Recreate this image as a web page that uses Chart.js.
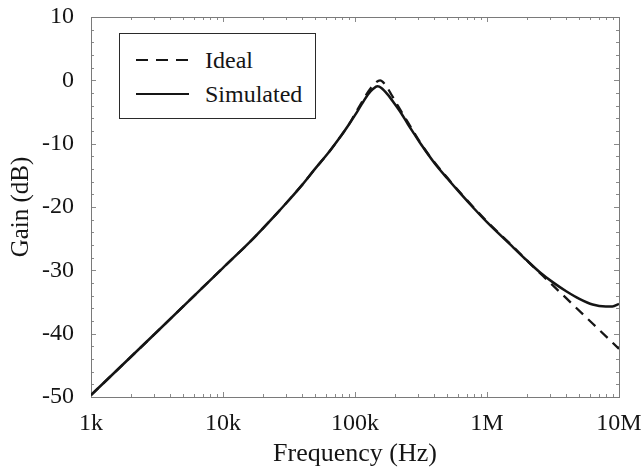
<!DOCTYPE html>
<html>
<head>
<meta charset="utf-8">
<script src="https://cdn.jsdelivr.net/npm/chart.js@4/dist/chart.umd.min.js"></script>
<style>
  html, body { margin: 0; padding: 0; background: #fff; }
  #wrap { position: relative; width: 643px; height: 467px; }
  #legend { position: absolute; left: 119px; top: 33px; width: 197px; height: 86px;
            box-sizing: border-box; border: 1.5px solid #2a2a2a; background: #fff;
            font-family: "Liberation Serif", "Times New Roman", serif; font-size: 24px; color: #151515; }
  #legend .row { position: absolute; left: 0; height: 30px; width: 100%; }
  #legend svg { position: absolute; left: 15px; top: 0; }
  #legend span { position: absolute; left: 85px; top: 0; line-height: 30px; }
</style>
</head>
<body>
<div id="wrap">
  <canvas id="c" width="643" height="467"></canvas>
  <div id="legend">
    <div class="row" style="top:11px">
      <svg width="56" height="30"><line x1="1" y1="15" x2="54" y2="15" stroke="#151515" stroke-width="2.2" stroke-dasharray="12 8"/></svg>
      <span>Ideal</span>
    </div>
    <div class="row" style="top:45px">
      <svg width="56" height="30"><line x1="1" y1="15" x2="54" y2="15" stroke="#151515" stroke-width="2.2"/></svg>
      <span>Simulated</span>
    </div>
  </div>
</div>
<script>
// ---- data ----
const xTickValues = [1e3, 1e4, 1e5, 1e6, 1e7];
const xTickLabels = ["1k", "10k", "100k", "1M", "10M"];
const yTickValues = [10, 0, -10, -20, -30, -40, -50];

const freqSimulated = [1000, 3162, 10000, 15849, 25119, 31623, 39811, 50119, 63096, 79433, 89125,
  100000, 112202, 125893, 138038, 147911, 158489, 177828, 199526, 223872, 251189, 281838, 316228,
  398107, 501187, 630957, 794328, 1000000, 1584893, 1995262, 2511886, 3162278, 3981072, 5011872,
  6309573, 7943282, 8912509, 10000000];
const gainSimulated = [-49.7, -39.7, -29.6, -25.6, -21.2, -18.9, -16.5, -13.9, -11.4, -8.6, -7.1,
  -5.5, -3.8, -2.2, -1.3, -0.95, -1.2, -2.3, -3.7, -5.2, -6.9, -8.5, -10.1,
  -13.0, -15.5, -17.9, -20.2, -22.4, -26.4, -28.4, -30.3, -31.9, -33.3, -34.5,
  -35.4, -35.7, -35.7, -35.3];

const freqIdeal = [1000, 3162, 10000, 15849, 25119, 31623, 39811, 50119, 63096, 79433, 89125,
  100000, 112202, 125893, 141254, 154882, 169824, 190546, 213796, 251189, 316228,
  398107, 501187, 630957, 794328, 1000000, 1584893, 1995262, 2511886, 3981072, 6309573, 10000000];
const gainIdeal = [-49.7, -39.7, -29.6, -25.6, -21.2, -18.9, -16.5, -13.9, -11.4, -8.6, -7.1,
  -5.3, -3.5, -1.8, -0.5, 0.0, -0.7, -2.4, -4.2, -6.6, -10.0,
  -12.9, -15.4, -17.8, -20.1, -22.3, -26.3, -28.4, -30.4, -34.4, -38.4, -42.4];

const toPts = (xs, ys) => xs.map((x, i) => ({ x: x, y: ys[i] }));

const FONT = "'Liberation Serif', 'Times New Roman', serif";
const INK = "#151515";

const framePlugin = {
  id: 'frame',
  beforeDatasetsDraw(chart) {
    const { ctx, chartArea: a, scales } = chart;
    const xs = scales.x, ys = scales.y;
    ctx.save();
    ctx.strokeStyle = '#8a8a8a';
    ctx.lineWidth = 1;
    ctx.beginPath();
    for (let d = 1e3; d < 1e7 + 1; d *= 10) {
      for (let m = 1; m <= 9; m++) {
        const v = d * m;
        if (v > 1e7 * 1.0001) break;
        const px = Math.round(xs.getPixelForValue(v)) + 0.5;
        const len = m === 1 ? 5 : 3;
        ctx.moveTo(px, a.bottom); ctx.lineTo(px, a.bottom - len);
        ctx.moveTo(px, a.top); ctx.lineTo(px, a.top + len);
      }
    }
    for (let v = -50; v <= 10; v += 2) {
      const py = Math.round(ys.getPixelForValue(v)) + 0.5;
      const len = (v % 10 === 0) ? 5 : 3;
      ctx.moveTo(a.left, py); ctx.lineTo(a.left + len, py);
      ctx.moveTo(a.right, py); ctx.lineTo(a.right - len, py);
    }
    ctx.stroke();
    ctx.strokeStyle = '#7a7a7a';
    ctx.strokeRect(Math.round(a.left) + 0.5, Math.round(a.top) + 0.5,
                   Math.round(a.right - a.left), Math.round(a.bottom - a.top));
    ctx.restore();
  }
};

new Chart(document.getElementById('c'), {
  type: 'line',
  data: {
    datasets: [
      {
        label: 'Ideal',
        data: toPts(freqIdeal, gainIdeal),
        borderColor: INK, borderWidth: 2.3, borderDash: [10, 7],
        pointRadius: 0, cubicInterpolationMode: 'monotone', fill: false
      },
      {
        label: 'Simulated',
        data: toPts(freqSimulated, gainSimulated),
        borderColor: INK, borderWidth: 2.5,
        pointRadius: 0, cubicInterpolationMode: 'monotone', fill: false
      }
    ]
  },
  options: {
    responsive: false,
    animation: false,
    devicePixelRatio: 1,
    layout: { padding: { top: 17, right: 24, left: 0, bottom: 0 } },
    plugins: { legend: { display: false }, tooltip: { enabled: false } },
    scales: {
      x: {
        type: 'logarithmic', min: 1e3, max: 1e7,
        grid: { display: false, drawTicks: false },
        border: { display: false },
        afterBuildTicks: (s) => { s.ticks = xTickValues.map(v => ({ value: v })); },
        afterFit: (s) => { s.height = 70; s.paddingLeft = 0; s.paddingRight = 0; },
        ticks: {
          autoSkip: false, maxRotation: 0, padding: 12, color: INK,
          font: { family: FONT, size: 24 },
          callback: (v) => { const i = xTickValues.indexOf(v); return i >= 0 ? xTickLabels[i] : ''; }
        },
        title: { display: true, text: 'Frequency (Hz)', color: INK,
                 font: { family: FONT, size: 26 }, padding: { top: 0, bottom: -3 } }
      },
      y: {
        min: -50, max: 10,
        grid: { display: false, drawTicks: false },
        border: { display: false },
        afterBuildTicks: (s) => { s.ticks = yTickValues.map(v => ({ value: v })); },
        afterFit: (s) => { s.width = 91; s.paddingTop = 0; s.paddingBottom = 0; },
        ticks: { padding: 17, color: INK, font: { family: FONT, size: 24 } },
        title: { display: true, text: 'Gain (dB)', color: INK,
                 font: { family: FONT, size: 25 }, padding: { top: 6, bottom: 0 } }
      }
    }
  },
  plugins: [framePlugin]
});
</script>
</body>
</html>
